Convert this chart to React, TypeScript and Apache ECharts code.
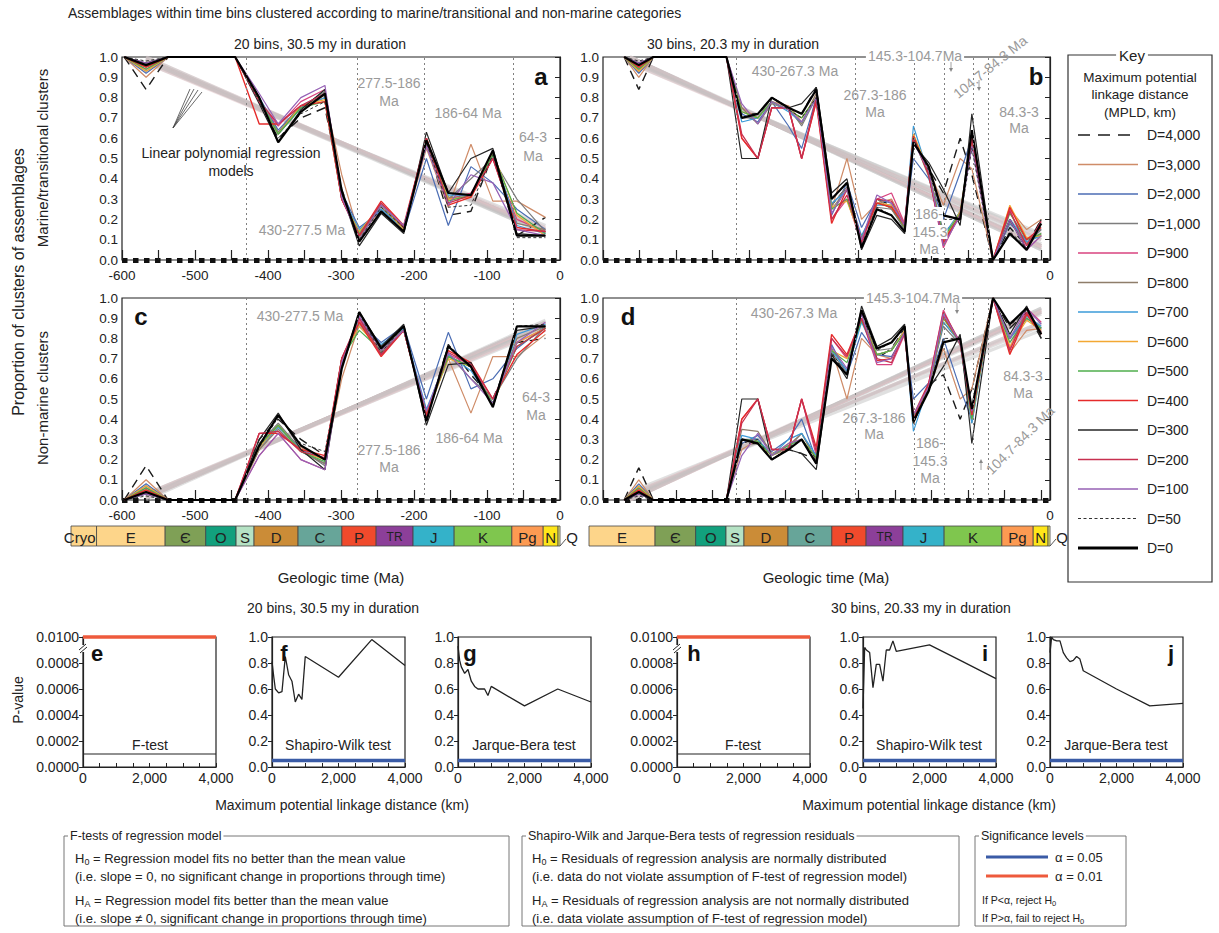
import React, { useEffect, useRef } from 'react';
import * as echarts from 'echarts';

const FONT = '"Liberation Sans", Arial, Helvetica, sans-serif';
const GRAY_TXT = '#9a9a9a';

// ---------------- Key: maximum potential linkage distance ----------------
const MPLD_LABELS = ['D=4,000', 'D=3,000', 'D=2,000', 'D=1,000', 'D=900', 'D=800', 'D=700', 'D=600', 'D=500', 'D=400', 'D=300', 'D=200', 'D=100', 'D=50', 'D=0'];
const MPLD_COLORS = ['#1b1b1b', '#cf8c68', '#4b6db4', '#7d7d7d', '#d8437f', '#8e7d6a', '#3b9bd8', '#f3a833', '#4fae4c', '#e52b2b', '#262626', '#c8304f', '#9661b5', '#333333', '#000000'];
const MPLD_WIDTHS = [1.4, 1.2, 1.2, 1.2, 1.2, 1.2, 1.2, 1.2, 1.2, 1.4, 1.2, 1.3, 1.2, 1.0, 2.2];
const MPLD_DASH: any[] = [[9, 6], 'solid', 'solid', 'solid', 'solid', 'solid', 'solid', 'solid', 'solid', 'solid', 'solid', 'solid', 'solid', [3, 2.5], 'solid'];

// ---------------- Time bins (Ma, negative = before present) ----------------
const AGES_20 = [-597, -567, -537, -506, -476, -445, -412, -386, -355, -322, -299, -275, -245, -214, -183, -153, -122, -92, -59, -20];
const AGES_30 = [-583, -563, -543, -522, -502, -482, -461, -443, -422, -400, -381, -358, -340, -320, -299, -278, -258, -237, -217, -199, -187, -166, -146, -123, -107, -78, -55, -32, -12];

// Panel a: marine/transitional, 20 bins (rows in key order D=4,000 ... D=0)
const MARINE_20: number[][] = [
  [1, 0.84, 1, 1, 1, 1, 0.78, 0.6, 0.7, 0.75, 0.35, 0.1, 0.27, 0.15, 0.58, 0.22, 0.24, 0.52, 0.12, 0.21],
  [1, 0.9, 1, 1, 1, 1, 0.8, 0.62, 0.76, 0.8, 0.42, 0.12, 0.25, 0.15, 0.55, 0.26, 0.57, 0.29, 0.29, 0.21],
  [1, 0.92, 1, 1, 1, 1, 0.8, 0.64, 0.76, 0.82, 0.33, 0.16, 0.24, 0.14, 0.5, 0.17, 0.46, 0.38, 0.25, 0.15],
  [1, 0.93, 1, 1, 1, 1, 0.8, 0.62, 0.75, 0.83, 0.32, 0.14, 0.26, 0.15, 0.57, 0.3, 0.4, 0.5, 0.3, 0.14],
  [1, 0.94, 1, 1, 1, 1, 0.78, 0.66, 0.78, 0.84, 0.3, 0.12, 0.28, 0.16, 0.58, 0.3, 0.33, 0.5, 0.2, 0.14],
  [1, 0.95, 1, 1, 1, 1, 0.79, 0.63, 0.76, 0.81, 0.31, 0.11, 0.27, 0.16, 0.6, 0.31, 0.31, 0.52, 0.18, 0.15],
  [1, 0.96, 1, 1, 1, 1, 0.8, 0.62, 0.75, 0.8, 0.31, 0.15, 0.25, 0.15, 0.59, 0.32, 0.32, 0.53, 0.17, 0.13],
  [1, 0.93, 1, 1, 1, 1, 0.79, 0.62, 0.76, 0.79, 0.3, 0.14, 0.27, 0.15, 0.6, 0.3, 0.31, 0.53, 0.22, 0.12],
  [1, 0.94, 1, 1, 1, 1, 0.79, 0.62, 0.75, 0.78, 0.3, 0.13, 0.27, 0.16, 0.59, 0.29, 0.32, 0.52, 0.23, 0.13],
  [1, 0.95, 1, 1, 1, 1, 0.67, 0.67, 0.76, 0.78, 0.3, 0.12, 0.29, 0.17, 0.6, 0.27, 0.31, 0.5, 0.16, 0.14],
  [1, 0.97, 1, 1, 1, 1, 0.77, 0.58, 0.74, 0.84, 0.33, 0.07, 0.23, 0.13, 0.63, 0.33, 0.5, 0.55, 0.13, 0.12],
  [1, 0.96, 1, 1, 1, 1, 0.78, 0.67, 0.76, 0.82, 0.3, 0.12, 0.28, 0.16, 0.6, 0.28, 0.32, 0.5, 0.15, 0.14],
  [1, 0.97, 1, 1, 1, 1, 0.82, 0.67, 0.8, 0.86, 0.31, 0.1, 0.27, 0.17, 0.56, 0.27, 0.42, 0.38, 0.15, 0.12],
  [1, 0.98, 1, 1, 1, 1, 0.78, 0.6, 0.72, 0.78, 0.33, 0.1, 0.26, 0.16, 0.58, 0.26, 0.27, 0.52, 0.11, 0.11],
  [1, 0.96, 1, 1, 1, 1, 0.8, 0.58, 0.73, 0.82, 0.34, 0.09, 0.24, 0.14, 0.59, 0.33, 0.32, 0.54, 0.12, 0.12],
];

// Panel b: marine/transitional, 30 bins
const MARINE_30: number[][] = [
  [1, 0.84, 1, 1, 1, 1, 1, 1, 0.72, 0.72, 0.8, 0.75, 0.72, 0.85, 0.27, 0.36, 0.08, 0.3, 0.27, 0.15, 0.58, 0.45, 0.33, 0.6, 0.42, 0, 0.16, 0.07, 0.2],
  [1, 0.9, 1, 1, 1, 1, 1, 1, 0.75, 0.7, 0.78, 0.76, 0.68, 0.82, 0.25, 0.5, 0.2, 0.28, 0.3, 0.18, 0.6, 0.45, 0.27, 0.5, 0.45, 0, 0.25, 0.15, 0.2],
  [1, 0.92, 1, 1, 1, 1, 1, 1, 0.72, 0.68, 0.78, 0.66, 0.55, 0.8, 0.22, 0.38, 0.16, 0.3, 0.28, 0.17, 0.5, 0.4, 0.2, 0.43, 0.6, 0, 0.18, 0.1, 0.15],
  [1, 0.93, 1, 1, 1, 1, 1, 1, 0.7, 0.7, 0.8, 0.75, 0.66, 0.8, 0.27, 0.36, 0.1, 0.26, 0.25, 0.15, 0.6, 0.42, 0.14, 0.2, 0.62, 0, 0.2, 0.08, 0.15],
  [1, 0.94, 1, 1, 1, 1, 1, 1, 0.6, 0.5, 0.75, 0.75, 0.5, 0.78, 0.2, 0.3, 0.08, 0.3, 0.33, 0.18, 0.62, 0.42, 0.06, 0.23, 0.58, 0, 0.25, 0.05, 0.12],
  [1, 0.95, 1, 1, 1, 1, 1, 1, 0.75, 0.67, 0.77, 0.74, 0.67, 0.82, 0.25, 0.35, 0.1, 0.3, 0.25, 0.16, 0.6, 0.41, 0.1, 0.22, 0.6, 0, 0.19, 0.08, 0.13],
  [1, 0.96, 1, 1, 1, 1, 1, 1, 0.68, 0.7, 0.78, 0.73, 0.68, 0.8, 0.28, 0.34, 0.12, 0.27, 0.27, 0.17, 0.66, 0.42, 0.12, 0.24, 0.6, 0, 0.2, 0.09, 0.12],
  [1, 0.93, 1, 1, 1, 1, 1, 1, 0.73, 0.7, 0.78, 0.74, 0.7, 0.8, 0.26, 0.29, 0.1, 0.28, 0.27, 0.16, 0.62, 0.44, 0.1, 0.24, 0.6, 0, 0.27, 0.11, 0.12],
  [1, 0.94, 1, 1, 1, 1, 1, 1, 0.73, 0.7, 0.78, 0.74, 0.7, 0.8, 0.25, 0.3, 0.11, 0.28, 0.26, 0.16, 0.61, 0.43, 0.11, 0.23, 0.6, 0, 0.23, 0.1, 0.13],
  [1, 0.95, 1, 1, 1, 1, 1, 1, 0.6, 0.5, 0.75, 0.75, 0.5, 0.78, 0.18, 0.35, 0.1, 0.28, 0.26, 0.17, 0.61, 0.42, 0.09, 0.22, 0.6, 0, 0.26, 0.1, 0.16],
  [1, 0.97, 1, 1, 1, 1, 1, 1, 0.5, 0.5, 0.8, 0.75, 0.77, 0.85, 0.33, 0.4, 0.05, 0.22, 0.2, 0.13, 0.57, 0.48, 0.35, 0.17, 0.72, 0, 0.2, 0.05, 0.2],
  [1, 0.96, 1, 1, 1, 1, 1, 1, 0.62, 0.5, 0.75, 0.75, 0.5, 0.8, 0.2, 0.32, 0.09, 0.3, 0.29, 0.17, 0.6, 0.42, 0.08, 0.22, 0.6, 0, 0.24, 0.07, 0.19],
  [1, 0.97, 1, 1, 1, 1, 1, 1, 0.77, 0.67, 0.78, 0.74, 0.68, 0.8, 0.23, 0.35, 0.1, 0.32, 0.28, 0.17, 0.58, 0.44, 0.07, 0.22, 0.56, 0, 0.2, 0.05, 0.12],
  [1, 0.98, 1, 1, 1, 1, 1, 1, 0.7, 0.72, 0.8, 0.74, 0.7, 0.8, 0.3, 0.38, 0.07, 0.26, 0.22, 0.14, 0.6, 0.44, 0.2, 0.2, 0.55, 0, 0.14, 0.06, 0.17],
  [1, 0.96, 1, 1, 1, 1, 1, 1, 0.7, 0.72, 0.8, 0.75, 0.72, 0.84, 0.3, 0.38, 0.06, 0.25, 0.22, 0.14, 0.58, 0.46, 0.22, 0.2, 0.64, 0, 0.13, 0.05, 0.18],
];

// Panel c: non-marine, 20 bins
const NONMARINE_20: number[][] = [
  [0, 0.17, 0, 0, 0, 0, 0.3, 0.4, 0.3, 0.22, 0.66, 0.9, 0.72, 0.86, 0.4, 0.77, 0.62, 0.5, 0.78, 0.8],
  [0, 0.1, 0, 0, 0, 0, 0.25, 0.36, 0.26, 0.2, 0.6, 0.87, 0.76, 0.84, 0.43, 0.7, 0.43, 0.71, 0.71, 0.82],
  [0, 0.08, 0, 0, 0, 0, 0.27, 0.37, 0.24, 0.18, 0.68, 0.88, 0.78, 0.86, 0.5, 0.83, 0.55, 0.6, 0.75, 0.86],
  [0, 0.07, 0, 0, 0, 0, 0.28, 0.38, 0.25, 0.17, 0.67, 0.9, 0.75, 0.85, 0.43, 0.72, 0.6, 0.5, 0.7, 0.86],
  [0, 0.06, 0, 0, 0, 0, 0.22, 0.33, 0.2, 0.15, 0.7, 0.89, 0.72, 0.84, 0.42, 0.72, 0.67, 0.48, 0.78, 0.85],
  [0, 0.05, 0, 0, 0, 0, 0.25, 0.35, 0.24, 0.18, 0.7, 0.88, 0.73, 0.84, 0.41, 0.71, 0.66, 0.47, 0.8, 0.86],
  [0, 0.04, 0, 0, 0, 0, 0.26, 0.36, 0.25, 0.2, 0.7, 0.86, 0.77, 0.85, 0.45, 0.72, 0.64, 0.48, 0.82, 0.87],
  [0, 0.07, 0, 0, 0, 0, 0.26, 0.37, 0.24, 0.2, 0.7, 0.86, 0.74, 0.84, 0.42, 0.7, 0.66, 0.47, 0.78, 0.85],
  [0, 0.06, 0, 0, 0, 0, 0.27, 0.37, 0.24, 0.19, 0.7, 0.84, 0.74, 0.84, 0.42, 0.71, 0.66, 0.48, 0.76, 0.85],
  [0, 0.05, 0, 0, 0, 0, 0.33, 0.33, 0.25, 0.22, 0.7, 0.88, 0.71, 0.84, 0.42, 0.74, 0.68, 0.5, 0.72, 0.84],
  [0, 0.03, 0, 0, 0, 0, 0.3, 0.43, 0.25, 0.15, 0.66, 0.93, 0.76, 0.87, 0.37, 0.67, 0.68, 0.46, 0.84, 0.86],
  [0, 0.04, 0, 0, 0, 0, 0.33, 0.34, 0.24, 0.21, 0.7, 0.9, 0.72, 0.84, 0.41, 0.73, 0.67, 0.5, 0.76, 0.85],
  [0, 0.03, 0, 0, 0, 0, 0.22, 0.33, 0.2, 0.15, 0.68, 0.91, 0.74, 0.84, 0.44, 0.73, 0.6, 0.48, 0.78, 0.88],
  [0, 0.02, 0, 0, 0, 0, 0.26, 0.41, 0.28, 0.24, 0.66, 0.92, 0.73, 0.86, 0.4, 0.77, 0.65, 0.47, 0.86, 0.87],
  [0, 0.04, 0, 0, 0, 0, 0.27, 0.42, 0.27, 0.2, 0.65, 0.93, 0.75, 0.86, 0.39, 0.76, 0.66, 0.46, 0.86, 0.86],
];

// Panel d: non-marine, 30 bins
const NONMARINE_30: number[][] = [
  [0, 0.16, 0, 0, 0, 0, 0, 0, 0.28, 0.28, 0.2, 0.25, 0.23, 0.2, 0.72, 0.62, 0.93, 0.7, 0.75, 0.85, 0.4, 0.57, 0.62, 0.4, 0.55, 1, 0.85, 0.93, 0.8],
  [0, 0.1, 0, 0, 0, 0, 0, 0, 0.25, 0.3, 0.22, 0.25, 0.3, 0.18, 0.75, 0.5, 0.8, 0.72, 0.7, 0.83, 0.42, 0.55, 0.75, 0.5, 0.55, 1, 0.73, 0.84, 0.85],
  [0, 0.08, 0, 0, 0, 0, 0, 0, 0.28, 0.32, 0.24, 0.3, 0.4, 0.2, 0.77, 0.62, 0.83, 0.72, 0.71, 0.82, 0.5, 0.58, 0.8, 0.55, 0.4, 1, 0.8, 0.9, 0.85],
  [0, 0.07, 0, 0, 0, 0, 0, 0, 0.3, 0.3, 0.22, 0.26, 0.33, 0.2, 0.73, 0.63, 0.9, 0.74, 0.75, 0.84, 0.4, 0.57, 0.86, 0.77, 0.38, 1, 0.8, 0.92, 0.85],
  [0, 0.06, 0, 0, 0, 0, 0, 0, 0.4, 0.5, 0.25, 0.25, 0.5, 0.22, 0.8, 0.7, 0.9, 0.67, 0.67, 0.82, 0.38, 0.58, 0.94, 0.77, 0.42, 1, 0.75, 0.95, 0.88],
  [0, 0.05, 0, 0, 0, 0, 0, 0, 0.35, 0.34, 0.23, 0.27, 0.33, 0.2, 0.75, 0.64, 0.9, 0.72, 0.74, 0.84, 0.4, 0.56, 0.88, 0.78, 0.4, 1, 0.8, 0.92, 0.84],
  [0, 0.04, 0, 0, 0, 0, 0, 0, 0.32, 0.3, 0.22, 0.3, 0.33, 0.22, 0.74, 0.64, 0.88, 0.72, 0.74, 0.84, 0.34, 0.57, 0.88, 0.78, 0.38, 1, 0.8, 0.91, 0.86],
  [0, 0.07, 0, 0, 0, 0, 0, 0, 0.3, 0.28, 0.22, 0.28, 0.3, 0.21, 0.74, 0.7, 0.9, 0.72, 0.74, 0.84, 0.38, 0.56, 0.9, 0.78, 0.4, 1, 0.76, 0.89, 0.84],
  [0, 0.06, 0, 0, 0, 0, 0, 0, 0.3, 0.29, 0.22, 0.27, 0.3, 0.21, 0.74, 0.68, 0.89, 0.72, 0.74, 0.83, 0.39, 0.56, 0.9, 0.78, 0.4, 1, 0.78, 0.9, 0.85],
  [0, 0.05, 0, 0, 0, 0, 0, 0, 0.4, 0.5, 0.25, 0.25, 0.5, 0.26, 0.82, 0.72, 0.9, 0.69, 0.7, 0.83, 0.4, 0.57, 0.91, 0.78, 0.42, 1, 0.72, 0.92, 0.82],
  [0, 0.03, 0, 0, 0, 0, 0, 0, 0.5, 0.5, 0.2, 0.25, 0.23, 0.15, 0.72, 0.6, 0.96, 0.76, 0.8, 0.87, 0.38, 0.55, 0.66, 0.82, 0.28, 1, 0.82, 0.96, 0.8],
  [0, 0.04, 0, 0, 0, 0, 0, 0, 0.38, 0.5, 0.25, 0.25, 0.5, 0.24, 0.8, 0.71, 0.9, 0.7, 0.68, 0.83, 0.42, 0.58, 0.93, 0.78, 0.43, 1, 0.74, 0.93, 0.83],
  [0, 0.03, 0, 0, 0, 0, 0, 0, 0.22, 0.33, 0.22, 0.28, 0.3, 0.18, 0.76, 0.65, 0.92, 0.68, 0.7, 0.83, 0.42, 0.56, 0.92, 0.78, 0.44, 1, 0.8, 0.95, 0.87],
  [0, 0.02, 0, 0, 0, 0, 0, 0, 0.28, 0.3, 0.2, 0.26, 0.3, 0.2, 0.73, 0.62, 0.93, 0.74, 0.78, 0.85, 0.4, 0.55, 0.8, 0.8, 0.45, 1, 0.86, 0.94, 0.83],
  [0, 0.04, 0, 0, 0, 0, 0, 0, 0.3, 0.28, 0.2, 0.25, 0.3, 0.18, 0.7, 0.62, 0.94, 0.75, 0.78, 0.86, 0.39, 0.54, 0.78, 0.8, 0.45, 1, 0.87, 0.95, 0.82],
];

// Linear regression models: [value at first age, value at last age] per MPLD
const REG_X_20 = [-567, -20];
const REG_X_30 = [-575, -12];
const REG_MARINE_20 = [[0.97, 0.17], [0.98, 0.16], [0.99, 0.15], [0.98, 0.15], [0.99, 0.14], [0.98, 0.15], [0.99, 0.14], [0.98, 0.15], [0.99, 0.15], [1.0, 0.14], [0.98, 0.13], [0.99, 0.14], [1.0, 0.13], [0.97, 0.15], [0.98, 0.14]];
const REG_MARINE_30 = [[0.98, 0.12], [0.99, 0.1], [1.0, 0.08], [0.99, 0.07], [1.0, 0.05], [0.99, 0.07], [1.0, 0.06], [0.99, 0.07], [0.99, 0.07], [1.0, 0.06], [0.97, 0.13], [1.0, 0.06], [1.0, 0.05], [0.97, 0.11], [0.98, 0.1]];
const REG_NONMARINE_20 = [[0.03, 0.84], [0.02, 0.85], [0.02, 0.87], [0.01, 0.87], [0.01, 0.88], [0.02, 0.87], [0.01, 0.88], [0.02, 0.87], [0.02, 0.87], [0.01, 0.88], [0.03, 0.86], [0.01, 0.88], [0.0, 0.89], [0.03, 0.85], [0.02, 0.86]];
const REG_NONMARINE_30 = [[0.04, 0.86], [0.02, 0.88], [0.01, 0.92], [0.02, 0.93], [0.0, 0.95], [0.01, 0.93], [0.01, 0.94], [0.01, 0.93], [0.01, 0.93], [0.0, 0.94], [0.03, 0.84], [0.0, 0.94], [0.0, 0.95], [0.03, 0.87], [0.02, 0.88]];

// Interval boundaries (dotted lines)
const BOUNDS_20 = [-430, -277.5, -186, -64];
const BOUNDS_30 = [-430, -267.3, -186, -145.3, -104.7, -84.3];

// Geologic time scale
const PERIOD_NAMES = ['Cryo', 'E', 'Є', 'O', 'S', 'D', 'C', 'P', 'TR', 'J', 'K', 'Pg', 'N', ''];
const PERIOD_START = [-670, -635, -541, -485.4, -443.8, -419.2, -358.9, -298.9, -251.9, -201.3, -145, -66, -23, -2.6];
const PERIOD_END = [-635, -541, -485.4, -443.8, -419.2, -358.9, -298.9, -251.9, -201.3, -145, -66, -23, -2.6, 0];
const PERIOD_COLORS = ['#fdd58a', '#fdd58a', '#7fa056', '#12a07d', '#b5e2c4', '#cb8c37', '#67a599', '#f04a2c', '#8c3f99', '#34b2c9', '#7fc64e', '#fd9a52', '#ffe619', '#f9f97f'];

// Tests vs MPLD (km)
const MPLD_KM = [0, 50, 100, 200, 300, 400, 500, 600, 700, 800, 900, 1000, 2000, 3000, 4000];
const F_TEST_20 = [0.0001, 0.0001, 0.0001, 0.0001, 0.0001, 0.0001, 0.0001, 0.0001, 0.0001, 0.0001, 0.0001, 0.0001, 0.0001, 0.0001, 0.0001];
const SW_20 = [0.81, 0.7, 0.6, 0.57, 0.58, 0.85, 0.71, 0.66, 0.5, 0.56, 0.52, 0.85, 0.69, 0.98, 0.78];
const JB_20 = [0.93, 0.82, 0.77, 0.72, 0.75, 0.66, 0.62, 0.6, 0.6, 0.6, 0.55, 0.62, 0.47, 0.6, 0.5];
const F_TEST_30 = [0.0001, 0.0001, 0.0001, 0.0001, 0.0001, 0.0001, 0.0001, 0.0001, 0.0001, 0.0001, 0.0001, 0.0001, 0.0001, 0.0001, 0.0001];
const SW_30 = [0.45, 0.92, 0.9, 0.88, 0.61, 0.79, 0.79, 0.66, 0.9, 0.9, 0.97, 0.89, 0.94, 0.81, 0.68];
const JB_30 = [0.88, 1.0, 0.98, 0.97, 0.97, 0.88, 0.84, 0.81, 0.82, 0.85, 0.83, 0.74, 0.6, 0.47, 0.49];
const ALPHA_05 = 0.05;
const ALPHA_01 = 0.01;
const F_AXIS_BREAK_TOP = 0.001; // axis is broken: values >= 0.001 are shown at the top (labelled 0.0100)
const fAxis = (v: number) => (v >= F_AXIS_BREAK_TOP ? F_AXIS_BREAK_TOP : v);

// ---------------- helpers ----------------
function T(text: string, x: number, y: number, o: any = {}) {
  return {
    type: 'text', x, y, rotation: o.rot || 0, z: o.z || 60, silent: true,
    style: {
      text, fill: o.color || '#222', fontSize: o.size || 13, fontFamily: FONT,
      fontWeight: o.weight || 'normal', align: o.align || 'center', verticalAlign: o.va || 'middle',
      backgroundColor: o.bg, padding: o.pad, rich: o.rich,
    },
  };
}
const G = (text: string, x: number, y: number, o: any = {}) => T(text, x, y, { color: GRAY_TXT, size: 14, ...o });
function L(x1: number, y1: number, x2: number, y2: number, stroke = '#333', lineWidth = 1, dash?: any) {
  return { type: 'line', z: 60, silent: true, shape: { x1, y1, x2, y2 }, style: { stroke, lineWidth, lineDash: dash } };
}
function R(x: number, y: number, w: number, h: number, stroke = '#777', fill = 'none', lw = 1) {
  return { type: 'rect', z: 55, silent: true, shape: { x, y, width: w, height: h }, style: { stroke, fill, lineWidth: lw } };
}
function Arrow(x: number, y1: number, y2: number) {
  const d = y2 > y1 ? 1 : -1;
  return [
    L(x, y1, x, y2 - d * 2, '#888', 0.8),
    { type: 'polygon', z: 60, silent: true, shape: { points: [[x - 2, y2 - d * 4], [x + 2, y2 - d * 4], [x, y2]] }, style: { fill: '#888' } },
  ];
}

function mainX(gi: number, min: number) {
  return {
    type: 'value', gridIndex: gi, min, max: 0, interval: 50,
    axisLine: { show: true, onZero: false, lineStyle: { color: '#111', width: 5, type: [5.5, 5.5], cap: 'butt' } },
    axisTick: { show: true, inside: true, length: 10, lineStyle: { color: '#222', width: 1.2 } },
    axisLabel: {
      formatter: (v: number) => (Math.round(v) % 100 === 0 ? String(Math.round(v)) : ''),
      fontSize: 13.5, color: '#222', fontFamily: FONT, margin: 8, showMinLabel: true, showMaxLabel: true,
    },
    splitLine: { show: false },
  };
}
function mainY(gi: number) {
  return {
    type: 'value', gridIndex: gi, min: 0, max: 1, interval: 0.1,
    axisLine: { show: true, lineStyle: { color: '#222', width: 1.2 } },
    axisTick: { show: true, inside: false, length: 5, lineStyle: { color: '#222' } },
    axisLabel: { formatter: (v: number) => Math.abs(v).toFixed(1), fontSize: 13.5, color: '#222', fontFamily: FONT, margin: 4, showMinLabel: true },
    splitLine: { show: false },
  };
}
function panelSeries(gi: number, ages: number[], vals: number[][], reg: number[][], regX: number[], bounds: number[]) {
  const out: any[] = [];
  reg.forEach((r, i) => {
    out.push({
      type: 'line', xAxisIndex: gi, yAxisIndex: gi, silent: true, symbol: 'none', z: 1,
      data: [[regX[0], r[0]], [regX[1], r[1]]],
      lineStyle: { color: i % 2 ? '#e0c2c6' : '#c2c2c2', width: 3.2, opacity: 0.5 },
    });
  });
  vals.forEach((v, i) => {
    const s: any = {
      type: 'line', name: MPLD_LABELS[i], xAxisIndex: gi, yAxisIndex: gi, symbol: 'none', z: 3, silent: true,
      data: ages.map((a, j) => [a, v[j]]),
      lineStyle: { color: MPLD_COLORS[i], width: MPLD_WIDTHS[i], type: MPLD_DASH[i] },
    };
    if (i === 0) {
      s.markLine = {
        silent: true, symbol: ['none', 'none'], label: { show: false },
        lineStyle: { type: [2, 3], color: '#808080', width: 1 },
        data: bounds.map((b) => ({ xAxis: b })),
      };
    }
    out.push(s);
  });
  return out;
}
function timescaleSeries(gi: number, clipStart: number, includeCryo: boolean) {
  const data: number[][] = [];
  PERIOD_NAMES.forEach((n, i) => {
    if (!includeCryo && n === 'Cryo') return;
    data.push([Math.max(PERIOD_START[i], clipStart), PERIOD_END[i], i]);
  });
  return {
    type: 'custom', xAxisIndex: gi, yAxisIndex: gi, data, silent: true,
    renderItem: (params: any, api: any) => {
      const s = api.value(0), e = api.value(1), idx = api.value(2);
      const p0 = api.coord([s, 1]);
      const p1 = api.coord([e, 0]);
      const isCryo = PERIOD_NAMES[idx] === 'Cryo';
      return {
        type: 'group',
        children: [
          { type: 'rect', shape: { x: p0[0], y: p0[1], width: p1[0] - p0[0], height: p1[1] - p0[1] }, style: { fill: PERIOD_COLORS[idx], stroke: '#444', lineWidth: 0.8 } },
          {
            type: 'text', x: isCryo ? p1[0] - 1 : (p0[0] + p1[0]) / 2, y: (p0[1] + p1[1]) / 2 + 1,
            style: { text: PERIOD_NAMES[idx], align: isCryo ? 'right' : 'center', verticalAlign: 'middle', fontSize: idx === 8 ? 12 : 15, fill: '#222', fontFamily: FONT },
          },
        ],
      };
    },
  };
}
function smallX(gi: number) {
  return {
    type: 'value', gridIndex: gi, min: 0, max: 4000, interval: 500,
    axisLine: { show: true, onZero: false, lineStyle: { color: '#222', width: 1.2 } },
    axisTick: { show: true, inside: true, length: 4, lineStyle: { color: '#222' } },
    axisLabel: { formatter: (v: number) => (v % 2000 === 0 ? v.toLocaleString('en-US') : ''), fontSize: 14, color: '#222', fontFamily: FONT, margin: 4 },
    splitLine: { show: false },
  };
}
function smallYF(gi: number) {
  return {
    type: 'value', gridIndex: gi, min: 0, max: F_AXIS_BREAK_TOP, interval: 0.0002,
    axisLine: { show: true, lineStyle: { color: '#222', width: 1.2 } },
    axisTick: { show: true, length: 4, lineStyle: { color: '#222' } },
    axisLabel: { formatter: (v: number) => (Math.abs(v - F_AXIS_BREAK_TOP) < 1e-9 ? ALPHA_01.toFixed(4) : v.toFixed(4)), fontSize: 14, color: '#222', fontFamily: FONT, margin: 4 },
    splitLine: { show: false },
  };
}
function smallYP(gi: number) {
  return {
    type: 'value', gridIndex: gi, min: 0, max: 1, interval: 0.2,
    axisLine: { show: true, lineStyle: { color: '#222', width: 1.2 } },
    axisTick: { show: true, length: 4, lineStyle: { color: '#222' } },
    axisLabel: { formatter: (v: number) => v.toFixed(1), fontSize: 14, color: '#222', fontFamily: FONT, margin: 4 },
    splitLine: { show: false },
  };
}
function fSeries(gi: number, fvals: number[]) {
  return [
    { type: 'line', xAxisIndex: gi, yAxisIndex: gi, symbol: 'none', silent: true, clip: false, z: 3, data: MPLD_KM.map((d, i) => [d, fAxis(fvals[i])]), lineStyle: { color: '#222', width: 1.2 } },
    { type: 'line', xAxisIndex: gi, yAxisIndex: gi, symbol: 'none', silent: true, clip: false, z: 4, data: [[0, fAxis(ALPHA_01)], [4000, fAxis(ALPHA_01)]], lineStyle: { color: '#ee5a3c', width: 3.5 } },
  ];
}
function pSeries(gi: number, vals: number[]) {
  return [
    { type: 'line', xAxisIndex: gi, yAxisIndex: gi, symbol: 'none', silent: true, clip: false, z: 4, data: [[0, ALPHA_05], [4000, ALPHA_05]], lineStyle: { color: '#3a5ba6', width: 3.5 } },
    { type: 'line', xAxisIndex: gi, yAxisIndex: gi, symbol: 'none', silent: true, z: 3, data: MPLD_KM.map((d, i) => [d, vals[i]]), lineStyle: { color: '#222', width: 1.3 } },
  ];
}

function buildOption() {
  const frame = { show: true, borderColor: '#222', borderWidth: 1.2, backgroundColor: 'transparent' };
  const grid: any[] = [
    { left: 122, top: 57, width: 438, height: 203, ...frame },
    { left: 603, top: 57, width: 447, height: 203, ...frame },
    { left: 122, top: 298, width: 438, height: 202, ...frame },
    { left: 603, top: 298, width: 447, height: 202, ...frame },
    { left: 71, top: 526, width: 489, height: 20, show: false },
    { left: 589, top: 526, width: 461, height: 20, show: false },
  ];
  const smallLefts = [83, 272, 458, 677, 863, 1050];
  smallLefts.forEach((l) => grid.push({ left: l, top: 637, width: 133, height: 130, ...frame }));

  const xAxis: any[] = [mainX(0, -600), mainX(1, -612), mainX(2, -600), mainX(3, -612),
    { type: 'value', gridIndex: 4, min: -670, max: 0, show: false },
    { type: 'value', gridIndex: 5, min: -631.5, max: 0, show: false }];
  const yAxis: any[] = [mainY(0), mainY(1), mainY(2), mainY(3),
    { type: 'value', gridIndex: 4, min: 0, max: 1, show: false },
    { type: 'value', gridIndex: 5, min: 0, max: 1, show: false }];
  for (let k = 0; k < 6; k++) {
    xAxis.push(smallX(6 + k));
    yAxis.push(k === 0 || k === 3 ? smallYF(6 + k) : smallYP(6 + k));
  }

  const series: any[] = [
    ...panelSeries(0, AGES_20, MARINE_20, REG_MARINE_20, REG_X_20, BOUNDS_20),
    ...panelSeries(1, AGES_30, MARINE_30, REG_MARINE_30, REG_X_30, BOUNDS_30),
    ...panelSeries(2, AGES_20, NONMARINE_20, REG_NONMARINE_20, REG_X_20, BOUNDS_20),
    ...panelSeries(3, AGES_30, NONMARINE_30, REG_NONMARINE_30, REG_X_30, BOUNDS_30),
    timescaleSeries(4, -670, true),
    timescaleSeries(5, -631.5, false),
    ...fSeries(6, F_TEST_20), ...pSeries(7, SW_20), ...pSeries(8, JB_20),
    ...fSeries(9, F_TEST_30), ...pSeries(10, SW_30), ...pSeries(11, JB_30),
  ];

  const rot = Math.PI / 2;
  const g: any[] = [];
  // titles
  g.push(T('Assemblages within time bins clustered according to marine/transitional and non-marine categories', 68, 13, { align: 'left', size: 14 }));
  g.push(T('20 bins, 30.5 my in duration', 320, 44, { size: 14 }));
  g.push(T('30 bins, 20.3 my in duration', 733, 44, { size: 14 }));
  g.push(T('Proportion of clusters of assemblages', 18, 282, { rot, size: 16 }));
  g.push(T('Marine/transitional clusters', 42, 158, { rot, size: 15 }));
  g.push(T('Non-marine clusters', 42, 398, { rot, size: 15 }));
  // panel letters
  g.push(T('a', 541, 76, { size: 24, weight: 'bold', color: '#111' }));
  g.push(T('b', 1036, 76, { size: 24, weight: 'bold', color: '#111' }));
  g.push(T('c', 141, 316, { size: 24, weight: 'bold', color: '#111' }));
  g.push(T('d', 628, 316, { size: 24, weight: 'bold', color: '#111' }));
  // panel a labels
  g.push(G('277.5-186', 389, 83), G('Ma', 389, 101), G('186-64 Ma', 468, 113), G('64-3', 533, 137), G('Ma', 533, 156), G('430-277.5 Ma', 302, 230));
  g.push(T('Linear polynomial regression', 231, 153, { size: 14 }), T('models', 231, 171, { size: 14 }));
  g.push(L(173, 128, 190, 89, '#444', 0.8), L(173, 128, 194, 89, '#444', 0.8), L(173, 128, 198, 90, '#444', 0.8), L(173, 128, 202, 92, '#444', 0.8));
  // panel c labels
  g.push(G('430-277.5 Ma', 300, 316), G('277.5-186', 389, 450), G('Ma', 389, 467), G('186-64 Ma', 469, 438), G('64-3', 536, 397), G('Ma', 536, 415));
  // panel b labels
  g.push(G('430-267.3 Ma', 795, 71), G('267.3-186', 875, 95), G('Ma', 875, 112));
  g.push(G('186-', 929, 214, { bg: '#fff' }), G('145.3', 930, 232, { bg: '#fff' }), G('Ma', 929, 249, { bg: '#fff' }));
  g.push(G('84.3-3', 1019, 112), G('Ma', 1019, 128));
  g.push(G('145.3-104.7Ma', 915, 56, { bg: '#fff', pad: [0, 2] }));
  g.push(G('104.7-84.3 Ma', 990, 67, { rot: Math.PI / 4.6 }));
  g.push(...Arrow(951, 62, 72), ...Arrow(979, 80, 91));
  // panel d labels
  g.push(G('430-267.3 Ma', 794, 313), G('145.3-104.7Ma', 913, 298, { bg: '#fff', pad: [0, 2] }));
  g.push(G('267.3-186', 874, 418), G('Ma', 874, 434));
  g.push(G('186-', 930, 443, { bg: '#fff' }), G('145.3', 930, 461, { bg: '#fff' }), G('Ma', 930, 478, { bg: '#fff' }));
  g.push(G('84.3-3', 1023, 376), G('Ma', 1023, 393));
  g.push(G('104.7-84.3 Ma', 1020, 440, { rot: Math.PI / 4 }));
  g.push(...Arrow(957, 303, 314), ...Arrow(981, 470, 459));
  // geologic time
  g.push(T('Geologic time (Ma)', 341, 577, { size: 15 }), T('Geologic time (Ma)', 826, 577, { size: 15 }));
  g.push(L(560, 546, 566, 539, '#444', 0.9), T('Q', 572, 537, { size: 15 }));
  g.push(L(1050, 546, 1056, 539, '#444', 0.9), T('Q', 1062, 537, { size: 15 }));

  // Key
  g.push(R(1068, 55, 144, 527, '#333', 'none', 1.2));
  g.push(T('Key', 1132, 55, { size: 15, bg: '#fff', pad: [0, 3] }));
  g.push(T('Maximum potential', 1140, 77, { size: 13.5 }), T('linkage distance', 1140, 94, { size: 13.5 }), T('(MPLD, km)', 1140, 112, { size: 13.5 }));
  MPLD_LABELS.forEach((lab, i) => {
    const y = 135 + i * 29.5;
    const w = i === 14 ? 3 : i === 13 ? 1.1 : 1.5;
    g.push(L(1078, y, 1138, y, MPLD_COLORS[i], w, i === 0 ? [12, 8] : i === 13 ? [3, 2.5] : undefined));
    g.push(T(lab, 1147, y, { align: 'left', size: 14 }));
  });

  // lower panels
  g.push(T('20 bins, 30.5 my in duration', 333, 608, { size: 14 }), T('30 bins, 20.33 my in duration', 921, 608, { size: 14 }));
  g.push(T('P-value', 18, 700, { rot, size: 14 }));
  g.push(T('Maximum potential linkage distance (km)', 342, 805, { size: 14 }), T('Maximum potential linkage distance (km)', 929, 805, { size: 14 }));
  const letters = [['e', 97], ['f', 284], ['g', 470], ['h', 694], ['i', 985], ['j', 1171]];
  letters.forEach(([t, x]) => g.push(T(t as string, x as number, 653, { size: 22, weight: 'bold', color: '#111' })));
  g.push(T('F-test', 150, 745, { size: 14 }), T('Shapiro-Wilk test', 338, 745, { size: 14 }), T('Jarque-Bera test', 524, 745, { size: 14 }));
  g.push(T('F-test', 743, 745, { size: 14 }), T('Shapiro-Wilk test', 929, 745, { size: 14 }), T('Jarque-Bera test', 1116, 745, { size: 14 }));
  [83, 677].forEach((x) => {
    g.push(R(x - 4, 645, 8, 7, 'none', '#fff', 0));
    g.push(L(x - 4, 650, x + 3, 644, '#222', 1), L(x - 3, 653, x + 4, 647, '#222', 1));
  });

  // bottom explanation boxes
  const rich = {
    n: { fontSize: 13, fontFamily: FONT, fill: '#222' },
    s: { fontSize: 9, fontFamily: FONT, fill: '#222', padding: [7, 0, 0, 0] },
    sm: { fontSize: 10.5, fontFamily: FONT, fill: '#222' },
    ss: { fontSize: 7.5, fontFamily: FONT, fill: '#222', padding: [6, 0, 0, 0] },
  };
  const HL = (sub: string, rest: string, x: number, y: number) => T(`{n|H}{s|${sub}}{n| ${rest}}`, x, y, { align: 'left', rich });
  g.push(R(64, 836, 445, 90));
  g.push(T('F-tests of regression model', 68, 836, { align: 'left', size: 12.5, bg: '#fff', pad: [0, 2] }));
  g.push(HL('0', '= Regression model fits no better than the mean value', 75, 858));
  g.push(T('(i.e. slope = 0, no significant change in proportions through time)', 75, 876, { align: 'left', size: 13 }));
  g.push(HL('A', '= Regression model fits better than the mean value', 75, 900));
  g.push(T('(i.e. slope ≠ 0, significant change in proportions through time)', 75, 918, { align: 'left', size: 13 }));
  g.push(R(522, 836, 437, 90));
  g.push(T('Shapiro-Wilk and Jarque-Bera tests of regression residuals', 526, 836, { align: 'left', size: 12.5, bg: '#fff', pad: [0, 2] }));
  g.push(HL('0', '= Residuals of regression analysis are normally distributed', 532, 858));
  g.push(T('(i.e. data do not violate assumption of F-test of regression model)', 532, 876, { align: 'left', size: 13 }));
  g.push(HL('A', '= Residuals of regression analysis are not normally distributed', 532, 900));
  g.push(T('(i.e. data violate assumption of F-test of regression model)', 532, 918, { align: 'left', size: 13 }));
  g.push(R(975, 836, 151, 90));
  g.push(T('Significance levels', 979, 836, { align: 'left', size: 12.5, bg: '#fff', pad: [0, 2] }));
  g.push(L(986, 857, 1048, 857, '#3a5ba6', 3), T('α = 0.05', 1055, 857, { align: 'left', size: 13 }));
  g.push(L(986, 876, 1048, 876, '#ee5a3c', 3), T('α = 0.01', 1055, 876, { align: 'left', size: 13 }));
  g.push(T('{sm|If P<α, reject H}{ss|0}', 982, 900, { align: 'left', rich }));
  g.push(T('{sm|If P>α, fail to reject H}{ss|0}', 982, 918, { align: 'left', rich }));

  return {
    animation: false,
    backgroundColor: '#ffffff',
    textStyle: { fontFamily: FONT },
    grid, xAxis, yAxis, series, graphic: g,
  };
}

export default function App() {
  const ref = useRef<HTMLDivElement>(null);
  useEffect(() => {
    const chart = echarts.init(ref.current as HTMLDivElement, null, { renderer: 'svg' });
    chart.setOption(buildOption() as any);
    return () => chart.dispose();
  }, []);
  return <div ref={ref} style={{ position: 'absolute', left: 0, top: 0, width: 1219, height: 933, background: '#fff' }} />;
}
